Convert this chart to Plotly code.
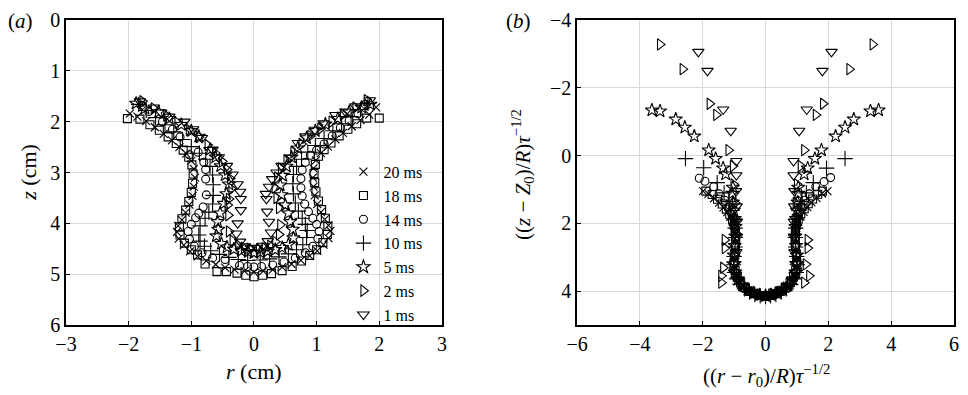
import plotly.graph_objects as go

# ---------------- Panel (a): r (cm), z (cm) ----------------
labels = ["20 ms", "18 ms", "14 ms", "10 ms", "5 ms", "2 ms", "1 ms"]

a20_r_right = [1.95,1.84,1.70,1.56,1.42,1.30,1.18,1.07,0.99,0.95,0.94,0.95,0.97,1.01,1.07,1.13,1.19,1.22,1.19,1.11,1.01,0.89,0.75,0.60,0.45,0.30,0.15,0.00]
a20_z_right = [1.72,1.86,1.97,2.09,2.22,2.35,2.49,2.62,2.76,2.92,3.10,3.28,3.45,3.62,3.78,3.92,4.04,4.15,4.29,4.42,4.54,4.64,4.73,4.80,4.86,4.91,4.94,4.96]
a20_r_left = [-1.98,-1.86,-1.72,-1.58,-1.44,-1.31,-1.19,-1.08,-1.00,-0.96,-0.94,-0.96,-0.98,-1.03,-1.09,-1.15,-1.21,-1.23,-1.20,-1.12,-1.02,-0.90,-0.76,-0.61,-0.46,-0.31,-0.15]
a20_z_left = [1.84,1.90,1.99,2.11,2.24,2.37,2.50,2.63,2.77,2.93,3.10,3.28,3.46,3.63,3.79,3.93,4.05,4.17,4.30,4.43,4.55,4.65,4.74,4.81,4.87,4.91,4.94]

a18_r_right = [2.00,1.80,1.64,1.50,1.36,1.23,1.12,1.03,0.98,0.96,0.97,0.99,1.03,1.08,1.14,1.18,1.17,1.10,1.00,0.89,0.76,0.61,0.45,0.28,0.14,0.00]
a18_z_right = [1.93,1.93,2.04,2.15,2.28,2.42,2.55,2.68,2.84,3.02,3.20,3.38,3.56,3.73,3.90,4.06,4.22,4.38,4.52,4.63,4.74,4.85,4.93,4.99,5.02,5.05]
a18_r_left = [-2.02,-1.82,-1.66,-1.51,-1.37,-1.24,-1.13,-1.04,-0.99,-0.97,-0.98,-1.00,-1.04,-1.09,-1.15,-1.19,-1.18,-1.11,-1.00,-0.90,-0.78,-0.59,-0.44,-0.27,-0.13]
a18_z_left = [1.94,1.95,2.06,2.17,2.30,2.43,2.56,2.70,2.85,3.03,3.21,3.39,3.57,3.74,3.91,4.07,4.23,4.39,4.52,4.62,4.80,4.95,4.95,4.98,5.02]

a14_r_right = [1.78,1.66,1.52,1.38,1.25,1.12,1.00,0.90,0.82,0.77,0.75,0.75,0.77,0.81,0.87,0.94,1.00,1.04,1.02,0.94,0.82,0.66,0.48,0.30,0.12]
a14_z_right = [1.66,1.84,1.98,2.12,2.28,2.44,2.56,2.66,2.80,2.95,3.12,3.30,3.46,3.62,3.77,3.90,4.02,4.16,4.30,4.45,4.58,4.68,4.76,4.82,4.85]
a14_r_left = [-1.80,-1.68,-1.46,-1.30,-1.18,-1.03,-0.89,-0.80,-0.77,-0.77,-0.76,-0.81,-0.88,-0.93,-1.00,-1.05,-1.03,-0.95,-0.83,-0.66,-0.46,-0.23,-0.10,0.00]
a14_z_left = [1.68,1.80,2.00,2.15,2.30,2.65,2.60,2.80,2.94,3.13,3.44,3.68,3.80,3.89,4.02,4.16,4.31,4.45,4.58,4.68,4.71,4.83,4.85,4.86]

a10_r_right = [1.82,1.70,1.55,1.40,1.26,1.12,0.98,0.86,0.76,0.68,0.63,0.62,0.63,0.66,0.71,0.77,0.82,0.85,0.84,0.78,0.68,0.55,0.40,0.25,0.10]
a10_z_right = [1.64,1.76,1.90,2.04,2.18,2.33,2.47,2.60,2.74,2.88,3.04,3.22,3.42,3.60,3.76,3.90,4.02,4.14,4.28,4.42,4.52,4.60,4.66,4.70,4.72]
a10_r_left = [-1.84,-1.72,-1.57,-1.42,-1.28,-1.14,-1.00,-0.87,-0.77,-0.70,-0.66,-0.65,-0.65,-0.66,-0.72,-0.78,-0.86,-0.88,-0.86,-0.79,-0.69,-0.55,-0.40,-0.25,-0.10]
a10_z_left = [1.66,1.78,1.92,2.06,2.20,2.35,2.49,2.62,2.74,2.88,3.05,3.24,3.45,3.62,3.78,3.90,4.05,4.23,4.35,4.45,4.54,4.61,4.67,4.71,4.73]

a5_r_right = [1.86,1.72,1.52,1.34,1.14,0.98,0.84,0.70,0.60,0.52,0.46,0.42,0.44,0.50,0.55,0.58,0.62,0.63,0.55,0.45,0.34,0.22,0.10,0.00]
a5_z_right = [1.66,1.72,1.81,1.94,2.05,2.18,2.32,2.52,2.70,2.88,3.06,3.25,3.44,3.64,3.80,3.97,4.12,4.29,4.42,4.48,4.52,4.55,4.57,4.58]
a5_r_left = [-1.88,-1.74,-1.52,-1.35,-1.16,-1.00,-0.88,-0.70,-0.61,-0.53,-0.46,-0.40,-0.44,-0.48,-0.54,-0.58,-0.57,-0.60,-0.52,-0.43,-0.32,-0.20,-0.09]
a5_z_left = [1.64,1.74,1.81,1.94,2.06,2.18,2.29,2.55,2.70,2.87,3.05,3.23,3.42,3.61,3.80,3.97,4.12,4.25,4.40,4.47,4.51,4.54,4.56]

a2_r_right = [1.80,1.62,1.42,1.24,1.06,0.90,0.76,0.63,0.52,0.43,0.37,0.33,0.36,0.40,0.42,0.40,0.34,0.26,0.17,0.08]
a2_z_right = [1.58,1.72,1.86,2.00,2.14,2.28,2.44,2.60,2.76,2.92,3.10,3.30,3.50,3.70,4.03,4.22,4.36,4.44,4.49,4.51]
a2_r_left = [-1.78,-1.60,-1.40,-1.22,-1.04,-0.88,-0.74,-0.62,-0.51,-0.43,-0.38,-0.36,-0.40,-0.42,-0.41,-0.40,-0.34,-0.25,-0.16,-0.07]
a2_z_left = [1.60,1.74,1.88,2.02,2.16,2.30,2.46,2.62,2.78,2.94,3.12,3.32,3.52,3.64,3.84,4.16,4.34,4.43,4.48,4.50]

a1_r_right = [1.85,1.62,1.46,1.30,1.11,0.97,0.82,0.70,0.58,0.44,0.36,0.29,0.24,0.19,0.20,0.21,0.24,0.27,0.22,0.14,0.05]
a1_z_right = [1.58,1.70,1.80,1.87,2.03,2.16,2.29,2.42,2.71,2.87,3.00,3.13,3.28,3.42,3.52,3.77,3.97,4.18,4.35,4.44,4.48]
a1_r_left = [-1.82,-1.60,-1.48,-1.35,-1.11,-0.97,-0.83,-0.66,-0.56,-0.43,-0.34,-0.26,-0.22,-0.21,-0.21,-0.26,-0.28,-0.22,-0.14,-0.05]
a1_z_left = [1.60,1.72,1.82,1.90,2.00,2.15,2.32,2.55,2.70,2.87,3.04,3.23,3.38,3.52,3.74,4.00,4.20,4.36,4.45,4.49]

# ---------------- Panel (b): scaled coordinates ----------------
b20_x_right = [1.97,1.80,1.62,1.46,1.33,1.21,1.11,1.03,0.98,0.96,0.96,0.98,1.00,0.98,0.92,0.82,0.69,0.54,0.38,0.21,0.05]
b20_y_right = [1.05,1.12,1.25,1.38,1.52,1.66,1.80,1.96,2.14,2.34,2.56,2.80,3.04,3.28,3.50,3.68,3.84,3.96,4.05,4.11,4.14]
b20_x_left = [-1.99,-1.82,-1.64,-1.48,-1.34,-1.22,-1.12,-1.04,-0.99,-0.97,-0.97,-0.99,-1.01,-0.99,-0.93,-0.83,-0.70,-0.55,-0.39,-0.22,-0.06]
b20_y_left = [1.05,1.13,1.26,1.39,1.53,1.67,1.81,1.97,2.15,2.35,2.57,2.81,3.05,3.29,3.51,3.69,3.85,3.97,4.06,4.12,4.15]

b18_x_right = [1.81,1.66,1.50,1.36,1.23,1.12,1.04,0.98,0.95,0.94,0.95,0.98,0.99,0.96,0.89,0.78,0.64,0.49,0.33,0.17,0.00]
b18_y_right = [1.05,1.14,1.28,1.42,1.57,1.72,1.88,2.05,2.24,2.45,2.68,2.92,3.15,3.38,3.58,3.75,3.90,4.00,4.08,4.13,4.15]
b18_x_left = [-1.90,-1.70,-1.53,-1.38,-1.25,-1.14,-1.05,-0.99,-0.96,-0.95,-0.96,-0.98,-1.00,-0.97,-0.90,-0.79,-0.65,-0.50,-0.34,-0.18]
b18_y_left = [1.05,1.15,1.29,1.43,1.58,1.73,1.89,2.06,2.25,2.46,2.69,2.93,3.16,3.39,3.59,3.76,3.90,4.01,4.08,4.13]

b14_x_right = [2.07,1.86,1.60,1.39,1.24,1.13,1.05,0.99,0.96,0.95,0.96,0.98,1.00,0.97,0.90,0.79,0.65,0.49,0.32,0.15]
b14_y_right = [0.65,0.77,0.92,1.13,1.32,1.52,1.73,1.95,2.18,2.42,2.68,2.94,3.18,3.42,3.62,3.79,3.92,4.02,4.09,4.13]
b14_x_left = [-2.11,-1.93,-1.65,-1.48,-1.30,-1.16,-1.07,-1.00,-0.97,-0.96,-0.97,-0.99,-1.01,-0.98,-0.91,-0.80,-0.66,-0.50,-0.33,-0.16,0.00]
b14_y_left = [0.67,0.76,0.92,1.13,1.32,1.52,1.73,1.95,2.18,2.42,2.68,2.94,3.18,3.42,3.62,3.79,3.92,4.02,4.09,4.13,4.15]

b10_x_right = [2.53,1.94,1.52,1.30,1.16,1.06,0.99,0.96,0.95,0.96,0.99,1.01,0.98,0.91,0.80,0.66,0.50,0.33,0.16]
b10_y_right = [0.09,0.37,0.80,1.10,1.36,1.62,1.88,2.14,2.42,2.70,2.98,3.22,3.45,3.64,3.80,3.93,4.03,4.10,4.14]
b10_x_left = [-2.55,-1.97,-1.54,-1.32,-1.17,-1.07,-1.00,-0.97,-0.96,-0.97,-1.00,-1.02,-0.99,-0.92,-0.81,-0.67,-0.51,-0.34,-0.17,0.00]
b10_y_left = [0.09,0.36,0.80,1.10,1.36,1.62,1.88,2.14,2.42,2.70,2.98,3.22,3.45,3.64,3.80,3.93,4.03,4.10,4.14,4.16]

b5_x_right = [3.60,3.34,2.81,2.53,2.23,1.78,1.57,1.34,1.23,1.04,1.04,1.02,1.00,0.97,0.95,0.95,0.97,1.00,1.02,0.97,0.87,0.72,0.55,0.37,0.18,0.00]
b5_y_right = [-1.34,-1.31,-1.07,-0.83,-0.57,-0.16,0.09,0.37,0.55,0.94,1.12,1.38,1.62,1.86,2.10,2.38,2.66,2.94,3.20,3.45,3.66,3.83,3.96,4.05,4.11,4.14]
b5_x_left = [-3.62,-3.36,-2.86,-2.57,-2.27,-1.81,-1.59,-1.35,-1.27,-1.04,-1.06,-1.04,-1.01,-0.98,-0.96,-0.96,-0.98,-1.01,-1.03,-0.98,-0.88,-0.73,-0.56,-0.38,-0.19]
b5_y_left = [-1.34,-1.31,-1.07,-0.83,-0.57,-0.16,0.09,0.37,0.55,0.94,1.12,1.38,1.62,1.86,2.10,2.38,2.66,2.94,3.20,3.45,3.66,3.83,3.96,4.05,4.11]

b2_x_right = [3.41,2.67,1.83,1.60,1.23,1.12,1.00,0.96,0.93,0.93,1.34,1.34,0.97,1.28,1.39,1.23,0.94,0.78,0.58,0.38,0.18]
b2_y_right = [-3.28,-2.55,-1.53,-1.20,-0.16,0.31,0.85,1.40,1.90,2.30,2.49,2.73,2.95,3.21,3.55,3.75,3.52,3.78,3.93,4.04,4.10]
b2_x_left = [-3.36,-2.64,-1.78,-1.57,-1.18,-1.04,-1.02,-0.97,-0.94,-0.94,-1.30,-1.30,-0.98,-1.35,-1.41,-1.41,-0.95,-0.79,-0.59,-0.39,-0.19]
b2_y_left = [-3.28,-2.55,-1.53,-1.20,-0.16,0.31,0.85,1.40,1.90,2.30,2.49,2.73,2.95,3.31,3.55,3.75,3.52,3.78,3.93,4.04,4.10]

b1_x_right = [2.10,1.81,1.31,1.07,0.89,0.89,0.92,0.91,0.90,0.90,0.92,0.95,0.93,0.84,0.70,0.52,0.33,0.14]
b1_y_right = [-3.06,-2.50,-1.36,-0.73,0.16,0.58,1.05,1.50,1.95,2.40,2.85,3.20,3.45,3.66,3.84,3.97,4.06,4.11]
b1_x_left = [-2.14,-1.85,-1.35,-1.11,-0.93,-0.93,-0.94,-0.92,-0.91,-0.91,-0.93,-0.96,-0.94,-0.85,-0.71,-0.53,-0.34,-0.15]
b1_y_left = [-3.06,-2.50,-1.36,-0.73,0.16,0.58,1.05,1.50,1.95,2.40,2.85,3.20,3.45,3.66,3.84,3.97,4.06,4.11]

panel_a = [
    (a20_r_left + a20_r_right, a20_z_left + a20_z_right),
    (a18_r_left + a18_r_right, a18_z_left + a18_z_right),
    (a14_r_left + a14_r_right, a14_z_left + a14_z_right),
    (a10_r_left + a10_r_right, a10_z_left + a10_z_right),
    (a5_r_left + a5_r_right, a5_z_left + a5_z_right),
    (a2_r_left + a2_r_right, a2_z_left + a2_z_right),
    (a1_r_left + a1_r_right, a1_z_left + a1_z_right),
]
panel_b = [
    (b20_x_left + b20_x_right, b20_y_left + b20_y_right),
    (b18_x_left + b18_x_right, b18_y_left + b18_y_right),
    (b14_x_left + b14_x_right, b14_y_left + b14_y_right),
    (b10_x_left + b10_x_right, b10_y_left + b10_y_right),
    (b5_x_left + b5_x_right, b5_y_left + b5_y_right),
    (b2_x_left + b2_x_right, b2_y_left + b2_y_right),
    (b1_x_left + b1_x_right, b1_y_left + b1_y_right),
]

symbols = ["x-thin", "square-open", "circle-open", "cross-thin", "star-open",
           "triangle-right-open", "triangle-down-open"]
sizes = [8, 8, 8, 11, 10, 10, 10]

FONT = "Liberation Serif"
fig = go.Figure()

for i, (lab, (xs, ys)) in enumerate(zip(labels, panel_a)):
    fig.add_trace(go.Scatter(
        x=xs, y=ys, mode="markers", name=lab, xaxis="x", yaxis="y",
        marker=dict(symbol=symbols[i], size=sizes[i], color="black",
                    line=dict(color="black", width=1.1)),
        showlegend=True))

for i, (lab, (xs, ys)) in enumerate(zip(labels, panel_b)):
    fig.add_trace(go.Scatter(
        x=xs, y=ys, mode="markers", name=lab, xaxis="x2", yaxis="y2",
        marker=dict(symbol=symbols[i], size=sizes[i], color="black",
                    line=dict(color="black", width=1.1)),
        showlegend=False))

axis_common = dict(
    showgrid=True, gridcolor="#d9d9d9", gridwidth=1, zeroline=False,
    showline=True, linecolor="black", linewidth=1.5, mirror=True,
    ticks="inside", ticklen=4, tickcolor="black",
    tickfont=dict(family=FONT, size=20, color="black"),
)

W, H = 968, 395
ml, mr, mt, mb = 66, 9, 15, 70
pw = W - ml - mr
ph = H - mt - mb

fig.update_layout(
    width=W, height=H,
    margin=dict(l=ml, r=mr, t=mt, b=mb),
    paper_bgcolor="white", plot_bgcolor="white",
    font=dict(family=FONT, size=20, color="black"),
    xaxis=dict(domain=[0, 378 / pw], range=[-3, 3], dtick=1, anchor="y", **axis_common),
    yaxis=dict(domain=[0, 1], range=[6, 0], dtick=1, anchor="x", **axis_common),
    xaxis2=dict(domain=[(580 - ml) / pw, 1], range=[-6, 6], dtick=2, anchor="y2", **axis_common),
    yaxis2=dict(domain=[0, 1], range=[5, -4], dtick=2, tick0=0, anchor="x2", **axis_common),
    legend=dict(x=(345 - ml) / pw, y=1 - (152 - mt) / ph, xanchor="left", yanchor="top",
                bgcolor="rgba(0,0,0,0)", font=dict(family=FONT, size=16, color="black"),
                itemwidth=30, tracegroupgap=0),
)

# annotations positioned in pixel terms, converted to paper coordinates
ann_specs = [
    ("(<i>a</i>)", 20, 16, 0, 21),
    ("<i>r</i> (cm)", 255, 372, 0, 22),
    ("<i>z</i> (cm)", 28, 170, -90, 22),
    ("(<i>b</i>)", 521, 16, 0, 21),
    ("((<i>r</i> − <i>r</i><sub>0</sub>)/<i>R</i>)<i>τ</i><sup>−1/2</sup>", 770, 376, 0, 21),
    ("((<i>z</i> − <i>Z</i><sub>0</sub>)/<i>R</i>)<i>τ</i><sup>−1/2</sup>", 525, 172, -90, 21),
]
anns = []
for text, px, py, ang, fs in ann_specs:
    anns.append(dict(text=text, xref="paper", yref="paper",
                     x=(px - ml) / pw, y=1 - (py - mt) / ph,
                     xanchor="center", yanchor="middle", textangle=ang,
                     showarrow=False, font=dict(family=FONT, size=fs, color="black")))
fig.update_layout(annotations=anns)

fig.write_html("out.html",
               config={"displayModeBar": False},
               post_script="document.body.style.margin='0';document.body.style.overflow='hidden';")
